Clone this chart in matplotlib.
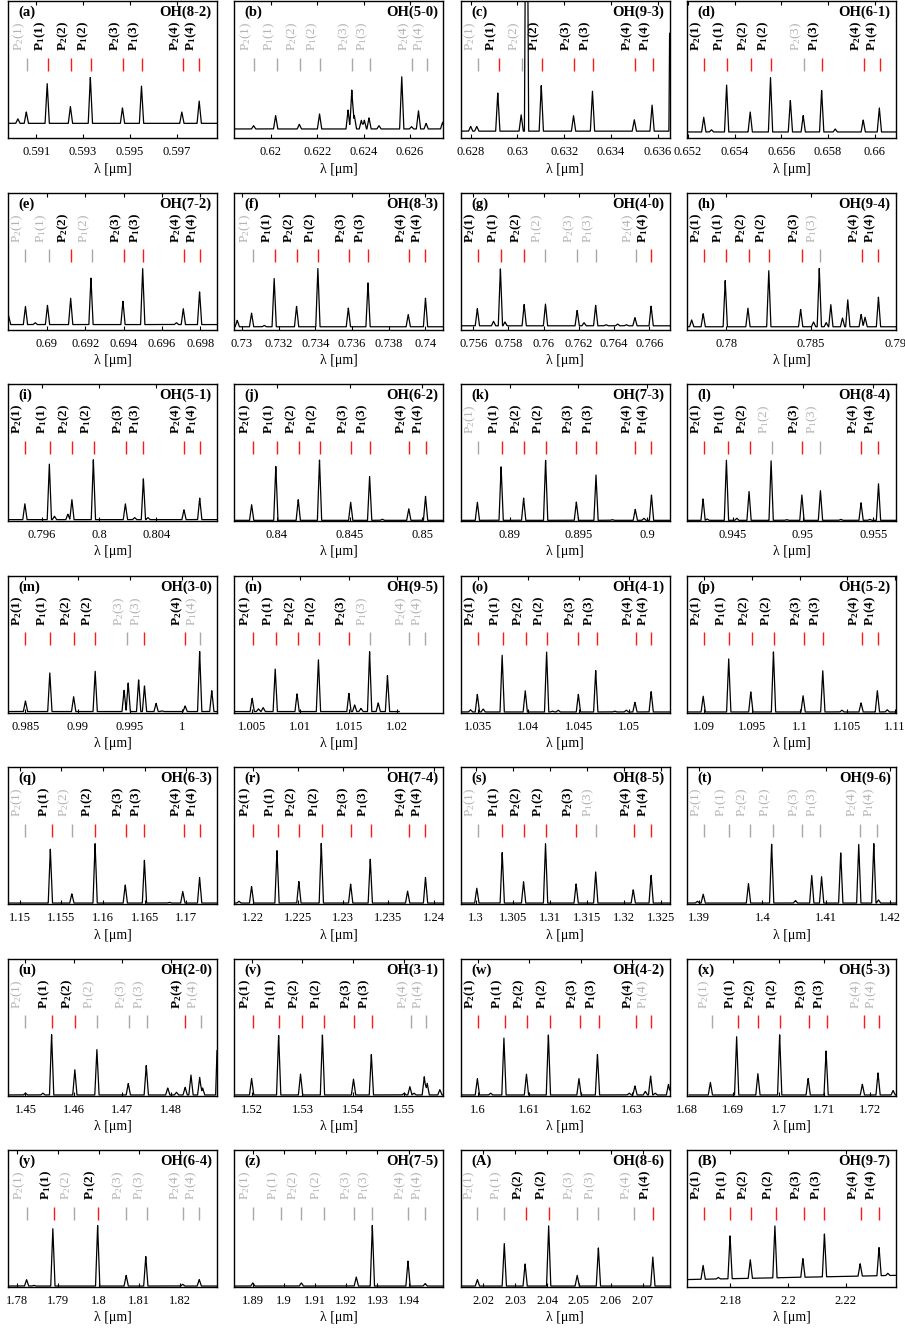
import numpy as np
import matplotlib
matplotlib.use("Agg")
import matplotlib.pyplot as plt

plt.rcParams["font.family"] = ["Liberation Serif", "DejaVu Serif"]
plt.rcParams["mathtext.fontset"] = "custom"
plt.rcParams["mathtext.rm"] = "Liberation Serif"
plt.rcParams["mathtext.bf"] = "Liberation Serif:bold"
plt.rcParams["mathtext.it"] = "Liberation Serif:italic"

# ---------------------------------------------------------------- data
TAGS = list("abcdefghijklmnopqrstuvwxyz") + ["A", "B"]
BANDS = ["OH(8-2)", "OH(5-0)", "OH(9-3)", "OH(6-1)",
         "OH(7-2)", "OH(8-3)", "OH(4-0)", "OH(9-4)",
         "OH(5-1)", "OH(6-2)", "OH(7-3)", "OH(8-4)",
         "OH(3-0)", "OH(9-5)", "OH(4-1)", "OH(5-2)",
         "OH(6-3)", "OH(7-4)", "OH(8-5)", "OH(9-6)",
         "OH(2-0)", "OH(3-1)", "OH(4-2)", "OH(5-3)",
         "OH(6-4)", "OH(7-5)", "OH(8-6)", "OH(9-7)"]

LINE_NAMES = [("2", "1"), ("1", "1"), ("2", "2"), ("1", "2"),
              ("2", "3"), ("1", "3"), ("2", "4"), ("1", "4")]

XLIMS = [(0.5898, 0.59871), (0.61843, 0.62743), (0.62757, 0.63651), (0.65196, 0.66091),
         (0.68797, 0.69888), (0.72959, 0.74097), (0.75528, 0.76715), (0.77767, 0.79),
         (0.79362, 0.80824), (0.83709, 0.85144), (0.88642, 0.90164), (0.94174, 0.95661),
         (0.98333, 1.00333), (1.00322, 1.02474), (1.03328, 1.05401), (1.08817, 1.11012),
         (1.14861, 1.17369), (1.21796, 1.24108), (1.29789, 1.32617), (1.38818, 1.42091),
         (1.4464, 1.4895), (1.5166, 1.5577), (1.59663, 1.6373), (1.6805, 1.72561),
         (1.77782, 1.829), (1.88407, 1.95112), (2.01295, 2.07842), (2.16491, 2.23743)]

XTICKS = [[0.591, 0.593, 0.595, 0.597], [0.62, 0.622, 0.624, 0.626],
          [0.628, 0.63, 0.632, 0.634, 0.636], [0.652, 0.654, 0.656, 0.658, 0.66],
          [0.69, 0.692, 0.694, 0.696, 0.698], [0.73, 0.732, 0.734, 0.736, 0.738, 0.74],
          [0.756, 0.758, 0.76, 0.762, 0.764, 0.766], [0.78, 0.785, 0.79],
          [0.796, 0.8, 0.804], [0.84, 0.845, 0.85], [0.89, 0.895, 0.9], [0.945, 0.95, 0.955],
          [0.985, 0.99, 0.995, 1.0], [1.005, 1.01, 1.015, 1.02],
          [1.035, 1.04, 1.045, 1.05], [1.09, 1.095, 1.1, 1.105, 1.11],
          [1.15, 1.155, 1.16, 1.165, 1.17], [1.22, 1.225, 1.23, 1.235, 1.24],
          [1.3, 1.305, 1.31, 1.315, 1.32, 1.325], [1.39, 1.4, 1.41, 1.42],
          [1.45, 1.46, 1.47, 1.48], [1.52, 1.53, 1.54, 1.55],
          [1.6, 1.61, 1.62, 1.63], [1.68, 1.69, 1.7, 1.71, 1.72],
          [1.78, 1.79, 1.8, 1.81, 1.82], [1.89, 1.9, 1.91, 1.92, 1.93, 1.94],
          [2.02, 2.03, 2.04, 2.05, 2.06, 2.07], [2.18, 2.2, 2.22]]

# P2(1) P1(1) P2(2) P1(2) P2(3) P1(3) P2(4) P1(4) wavelengths [um]
LINE_WL = [
    [0.59059, 0.59151, 0.59249, 0.59334, 0.59472, 0.5955, 0.59724, 0.59795],
    [0.61926, 0.62026, 0.62126, 0.62214, 0.62351, 0.62429, 0.62607, 0.62671],
    [0.62832, 0.62921, 0.63019, 0.63105, 0.63243, 0.63324, 0.63505, 0.63579],
    [0.65271, 0.65369, 0.6547, 0.65557, 0.65698, 0.65776, 0.65954, 0.66023],
    [0.68888, 0.69009, 0.69124, 0.69236, 0.69403, 0.69503, 0.69715, 0.69797],
    [0.7306, 0.73179, 0.73298, 0.73414, 0.73583, 0.73687, 0.73909, 0.74],
    [0.75626, 0.75757, 0.75889, 0.7601, 0.7619, 0.76295, 0.76525, 0.7661],
    [0.7787, 0.78, 0.78134, 0.78253, 0.78445, 0.78555, 0.78801, 0.78897],
    [0.79484, 0.79655, 0.7981, 0.79963, 0.80187, 0.80309, 0.80593, 0.80703],
    [0.8384, 0.84, 0.84152, 0.84294, 0.84508, 0.84638, 0.84907, 0.85022],
    [0.88769, 0.88945, 0.89106, 0.89261, 0.89485, 0.89628, 0.89914, 0.90032],
    [0.94298, 0.94463, 0.9462, 0.94777, 0.94992, 0.95124, 0.95413, 0.95537],
    [0.985, 0.98739, 0.98961, 0.99167, 0.99472, 0.99639, 1.00028, 1.00167],
    [1.00512, 1.00749, 1.00974, 1.01194, 1.01508, 1.01715, 1.02119, 1.0229],
    [1.035, 1.03752, 1.03981, 1.04187, 1.04496, 1.04679, 1.05069, 1.05218],
    [1.09, 1.09262, 1.095, 1.09732, 1.10049, 1.1025, 1.10659, 1.10829],
    [1.1507, 1.15383, 1.15627, 1.15906, 1.16275, 1.16498, 1.16972, 1.1716],
    [1.22, 1.22274, 1.22516, 1.22764, 1.23089, 1.23306, 1.23726, 1.23911],
    [1.30023, 1.30352, 1.30648, 1.30945, 1.31352, 1.31617, 1.32133, 1.32367],
    [1.39091, 1.39473, 1.398, 1.40164, 1.40618, 1.40909, 1.41527, 1.418],
    [1.45, 1.45539, 1.46018, 1.46473, 1.47132, 1.47515, 1.48293, 1.48617],
    [1.52023, 1.52543, 1.52985, 1.53415, 1.54015, 1.54377, 1.55136, 1.5543],
    [1.6, 1.60528, 1.60955, 1.61393, 1.61989, 1.62348, 1.63079, 1.63371],
    [1.68537, 1.6911, 1.69549, 1.70037, 1.70671, 1.71061, 1.71854, 1.72195],
    [1.78237, 1.78904, 1.79408, 1.79977, 1.80676, 1.8118, 1.82059, 1.82465],
    [1.89021, 1.8989, 1.90557, 1.91278, 1.92252, 1.92835, 1.93979, 1.9453],
    [2.01821, 2.02663, 2.03337, 2.04074, 2.04947, 2.05611, 2.06737, 2.07316],
    [2.17076, 2.17988, 2.18713, 2.19567, 2.20538, 2.21263, 2.22526, 2.2317],
]

# 1 = line used (bold label), 0 = not used (grey label)
LABEL_ON = ["01111111", "00000000", "01011111", "11110111",
            "00101111", "01111111", "11100001", "11111011",
            "11111111", "11111111", "01111111", "11101011",
            "11110010", "11111000", "11111111", "11111111",
            "01011111", "11111111", "01111011", "00000000",
            "01100010", "11111100", "11111110", "01111100",
            "01010000", "00000000", "00110001", "11111111"]
# 1 = red marker, 0 = grey marker
MARK_ON = ["01111111", "00000000", "01011111", "11110111",
           "00101111", "01111111", "11100001", "11111011",
           "11111111", "11111111", "01111111", "11101011",
           "11110110", "11111000", "11111111", "11111111",
           "01011111", "11111111", "01111011", "00000000",
           "01100010", "11111100", "11111111", "01111111",
           "01010000", "00000000", "00110001", "11111111"]

# emission peaks: wavelength [um] and peak level (relative flux)
PEAK_WL = [
    [0.59022, 0.59058, 0.59147, 0.59246, 0.59331, 0.59468, 0.59549, 0.59721, 0.59795],
    [0.61926, 0.62021, 0.62123, 0.6221, 0.62333, 0.62349, 0.6236, 0.6239, 0.62403, 0.62423,
     0.62466, 0.62564, 0.62606, 0.62636, 0.62669, 0.6274],
    [0.628, 0.62826, 0.62916, 0.63016, 0.63039, 0.63102, 0.6324, 0.63321, 0.635, 0.63576, 0.63657],
    [0.65268, 0.65301, 0.65366, 0.65467, 0.65554, 0.65639, 0.65694, 0.65773, 0.65831, 0.65951, 0.6602],
    [0.688, 0.68888, 0.68939, 0.69003, 0.69124, 0.6923, 0.69397, 0.695, 0.69676, 0.69712, 0.69797],
    [0.72975, 0.73053, 0.73122, 0.73176, 0.73298, 0.73414, 0.7358, 0.73687, 0.73906, 0.74],
    [0.75623, 0.75715, 0.75754, 0.7578, 0.75889, 0.7601, 0.7619, 0.76229, 0.76295, 0.76354,
     0.7642, 0.76469, 0.76518, 0.7661],
    [0.77795, 0.77863, 0.77993, 0.78127, 0.7825, 0.78438, 0.78514, 0.78548, 0.78589, 0.78616,
     0.78685, 0.78716, 0.78795, 0.78818, 0.78897],
    [0.7948, 0.79651, 0.79687, 0.79781, 0.79809, 0.79959, 0.80183, 0.80248, 0.80309, 0.80341,
     0.80593, 0.80703],
    [0.83828, 0.83994, 0.84148, 0.84294, 0.84508, 0.84638, 0.84725, 0.84907, 0.85022],
    [0.88764, 0.88937, 0.89101, 0.89261, 0.89485, 0.89628, 0.89746, 0.89914, 0.89977, 0.90032],
    [0.94289, 0.94318, 0.94455, 0.94529, 0.94616, 0.94773, 0.94884, 0.94992, 0.95124, 0.95269,
     0.95413, 0.95475, 0.95537],
    [0.985, 0.98733, 0.98961, 0.99167, 0.99444, 0.99483, 0.99583, 0.99639, 0.9975, 0.99806,
     1.00028, 1.00167, 1.00283],
    [1.00506, 1.00571, 1.00619, 1.00743, 1.00968, 1.01188, 1.01502, 1.01561, 1.01626, 1.01715,
     1.01804, 1.01899],
    [1.03426, 1.03494, 1.03552, 1.0374, 1.03969, 1.04181, 1.04239, 1.04296, 1.04496, 1.04668,
     1.04857, 1.04971, 1.05057, 1.05218],
    [1.08988, 1.09256, 1.09488, 1.09726, 1.10037, 1.10244, 1.10445, 1.10646, 1.10817, 1.10921],
    [1.15369, 1.15627, 1.15906, 1.16268, 1.16498, 1.16798, 1.16958, 1.1716],
    [1.21847, 1.21987, 1.22268, 1.2251, 1.22758, 1.23083, 1.233, 1.23713, 1.23911],
    [1.30008, 1.30352, 1.30641, 1.30938, 1.31352, 1.31617, 1.32125, 1.32367],
    [1.38982, 1.39073, 1.39782, 1.40145, 1.40518, 1.40773, 1.40927, 1.41227, 1.41509, 1.41745, 1.41818],
    [1.45, 1.45359, 1.45539, 1.46018, 1.46473, 1.4712, 1.47491, 1.47934, 1.48114, 1.48293,
     1.48413, 1.48593, 1.48653, 1.48965],
    [1.52, 1.52532, 1.52962, 1.53393, 1.54004, 1.54355, 1.55, 1.55113, 1.55193, 1.55396,
     1.55453, 1.55702],
    [1.59989, 1.60247, 1.60506, 1.60944, 1.61371, 1.61966, 1.62326, 1.62944, 1.63056, 1.63258,
     1.6336, 1.6345, 1.63708],
    [1.68512, 1.69085, 1.69549, 1.70024, 1.70646, 1.71037, 1.71829, 1.72171, 1.725],
    [1.78237, 1.78416, 1.7888, 1.79977, 1.80676, 1.81156, 1.82059, 1.82465],
    [1.89, 1.90557, 1.9232, 1.92835, 1.93979, 1.9453],
    [2.01821, 2.02663, 2.03316, 2.04053, 2.04947, 2.05611, 2.07316],
    [2.17053, 2.17579, 2.17988, 2.1869, 2.19544, 2.20515, 2.21263, 2.22503, 2.23158, 2.23462],
]
PEAK_TOP = [
    [0.14, 0.19, 0.40, 0.23, 0.445, 0.22, 0.38, 0.19, 0.27],
    [0.09, 0.164, 0.10, 0.176, 0.205, 0.352, 0.164, 0.13, 0.13, 0.147, 0.09, 0.45, 0.083, 0.20, 0.107, 0.115],
    [0.085, 0.085, 0.33, 0.17, 3.0, 0.384, 0.164, 0.342, 0.134, 0.242, 2.2],
    [0.152, 0.06, 0.39, 0.19, 0.445, 0.276, 0.164, 0.347, 0.066, 0.132, 0.22],
    [0.10, 0.17, 0.05, 0.176, 0.23, 0.376, 0.207, 0.446, 0.05, 0.152, 0.277],
    [0.067, 0.12, 0.03, 0.376, 0.17, 0.446, 0.157, 0.342, 0.11, 0.229],
    [0.152, 0.06, 0.446, 0.055, 0.183, 0.186, 0.14, 0.05, 0.176, 0.035, 0.04, 0.035, 0.087, 0.171],
    [0.07, 0.116, 0.357, 0.157, 0.434, 0.147, 0.055, 0.446, 0.05, 0.183, 0.084, 0.217, 0.11, 0.09, 0.236],
    [0.126, 0.42, 0.035, 0.05, 0.157, 0.447, 0.126, 0.025, 0.31, 0.025, 0.082, 0.167],
    [0.12, 0.40, 0.157, 0.447, 0.138, 0.326, 0.013, 0.09, 0.18],
    [0.138, 0.396, 0.167, 0.447, 0.138, 0.338, 0.01, 0.085, 0.02, 0.19],
    [0.162, 0.015, 0.447, 0.02, 0.217, 0.44, 0.01, 0.19, 0.222, 0.012, 0.133, 0.012, 0.275],
    [0.084, 0.29, 0.116, 0.304, 0.164, 0.217, 0.24, 0.195, 0.067, 0.012, 0.048, 0.446, 0.159],
    [0.104, 0.027, 0.036, 0.32, 0.137, 0.388, 0.14, 0.055, 0.03, 0.446, 0.07, 0.27],
    [0.02, 0.133, 0.025, 0.42, 0.16, 0.446, 0.01, 0.017, 0.133, 0.306, 0.01, 0.017, 0.075, 0.152],
    [0.12, 0.393, 0.152, 0.443, 0.123, 0.306, 0.017, 0.07, 0.16, 0.02],
    [0.40, 0.075, 0.443, 0.14, 0.32, 0.012, 0.092, 0.195],
    [0.02, 0.128, 0.393, 0.164, 0.443, 0.145, 0.33, 0.094, 0.195],
    [0.116, 0.376, 0.164, 0.443, 0.147, 0.234, 0.104, 0.212],
    [0.02, 0.072, 0.15, 0.44, 0.025, 0.21, 0.2, 0.376, 0.436, 0.443, 0.03],
    [0.017, 0.017, 0.446, 0.19, 0.337, 0.087, 0.22, 0.055, 0.024, 0.06, 0.15, 0.133, 0.055, 0.5],
    [0.125, 0.443, 0.157, 0.443, 0.12, 0.3, 0.017, 0.065, 0.017, 0.137, 0.09, 0.043],
    [0.125, 0.017, 0.42, 0.157, 0.446, 0.125, 0.303, 0.017, 0.07, 0.03, 0.142, 0.017, 0.082],
    [0.096, 0.434, 0.16, 0.443, 0.125, 0.325, 0.082, 0.166, 0.036],
    [0.054, 0.012, 0.426, 0.45, 0.085, 0.224, 0.02, 0.054],
    [0.03, 0.03, 0.073, 0.45, 0.19, 0.025],
    [0.054, 0.32, 0.17, 0.45, 0.085, 0.287, 0.22],
    [0.158, 0.07, 0.377, 0.2, 0.45, 0.207, 0.39, 0.17, 0.29, 0.1],
]
# continuum level at the blue and red end of each panel
BASELINE = [(0.107, 0.107), (0.066, 0.066), (0.05, 0.05), (0.044, 0.044),
            (0.036, 0.036), (0.02, 0.02), (0.027, 0.027), (0.02, 0.02),
            (0.01, 0.01), (0.005, 0.005), (0.005, 0.005), (0.005, 0.005),
            (0.007, 0.007), (0.007, 0.007), (0.004, 0.004), (0.004, 0.004),
            (0.007, 0.007), (0.007, 0.007), (0.007, 0.007), (0.007, 0.007),
            (0.004, 0.004), (0.004, 0.004), (0.004, 0.004), (0.004, 0.004),
            (0.007, 0.007), (0.007, 0.007), (0.007, 0.007), (0.054, 0.085)]
# red end of the recorded spectrum where it stops short of the axis
SPEC_END = {13: 1.0202}

# ---------------------------------------------------------------- style
RED = "#ff1a1a"
GREY_TXT = "#b3b3b3"
GREY_MARK = "#a8a8a8"
W, H = 905.0, 1332.0
AX_W, AX_H = 209.0, 137.0
COL_X = [8.0, 234.3, 460.6, 686.9]
ROW_Y = [1.0 + 191.5 * r for r in range(7)]


def spectrum(k):
    lo, hi = XLIMS[k]
    end = SPEC_END.get(k, hi)
    x = np.linspace(lo, end, 4000)
    b0, b1 = BASELINE[k]
    y = b0 + (b1 - b0) * (x - lo) / (hi - lo)
    hw = 2.1 / AX_W * (hi - lo)
    for wl, top in zip(PEAK_WL[k], PEAK_TOP[k]):
        base = b0 + (b1 - b0) * (wl - lo) / (hi - lo)
        amp = max(top - base, 0.0)
        y = y + amp * np.clip(1.0 - np.abs(x - wl) / hw, 0.0, None)
    return x, y


fig = plt.figure(figsize=(W / 100, H / 100), dpi=100)

for k in range(28):
    r, c = divmod(k, 4)
    ax = fig.add_axes([COL_X[c] / W, 1 - (ROW_Y[r] + AX_H) / H, AX_W / W, AX_H / H])
    lo, hi = XLIMS[k]
    x, y = spectrum(k)
    ax.plot(x, y, color="black", lw=0.9)
    ax.set_xlim(lo, hi)
    ax.set_ylim(0, 1)
    ax.set_yticks([])
    ax.set_xticks(XTICKS[k])
    ax.set_xticklabels([f"{t:g}" for t in XTICKS[k]])
    ax.tick_params(axis="x", direction="in", length=3, width=0.8, top=True,
                   labelsize=9, pad=6)
    for sp in ax.spines.values():
        sp.set_linewidth(1.0)
    ax.set_xlabel("λ [μm]", fontsize=10, labelpad=3)

    for j, wl in enumerate(LINE_WL[k]):
        branch, n = LINE_NAMES[j]
        on = LABEL_ON[k][j] == "1"
        mark = MARK_ON[k][j] == "1"
        ax.plot([wl, wl], [0.49, 0.585], color=RED if mark else GREY_MARK, lw=1.0,
                solid_capstyle="butt")
        if on:
            txt = r"$\mathbf{P_{%s}(%s)}$" % (branch, n)
            col = "black"
        else:
            txt = r"$\mathrm{P_{%s}(%s)}$" % (branch, n)
            col = GREY_TXT
        ax.text(wl, 0.635, txt, rotation=90, ha="right", va="bottom", color=col,
                fontsize=9.5, transform=ax.get_xaxis_transform())

    ax.text(0.05, 0.965, f"({TAGS[k]})", transform=ax.transAxes, ha="left", va="top",
            fontsize=10.5, fontweight="bold")
    ax.text(0.975, 0.965, BANDS[k], transform=ax.transAxes, ha="right", va="top",
            fontsize=10.5, fontweight="bold")

fig.savefig("out.png", dpi=100)
